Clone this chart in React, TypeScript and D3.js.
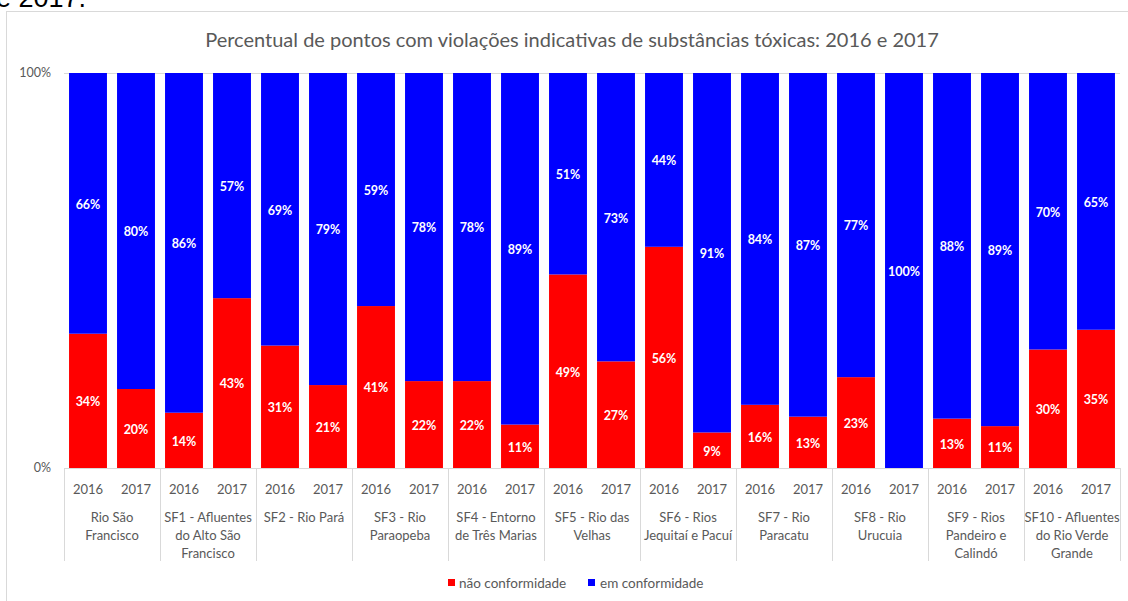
import React from "react";
import * as d3 from "d3";

const categories: string[][] = [
  ["Rio São", "Francisco"],
  ["SF1 - Afluentes", "do Alto São", "Francisco"],
  ["SF2 - Rio Pará"],
  ["SF3 - Rio", "Paraopeba"],
  ["SF4 - Entorno", "de Três Marias"],
  ["SF5 - Rio das", "Velhas"],
  ["SF6 - Rios", "Jequitaí e Pacuí"],
  ["SF7 - Rio", "Paracatu"],
  ["SF8 - Rio", "Urucuia"],
  ["SF9 - Rios", "Pandeiro e", "Calindó"],
  ["SF10 - Afluentes", "do Rio Verde", "Grande"],
];
const years = ["2016", "2017"];
// [2016, 2017] per category
const naoConformidade: number[][] = [
  [34, 20], [14, 43], [31, 21], [41, 22], [22, 11], [49, 27],
  [56, 9], [16, 13], [23, 0], [12.5, 10.6], [30, 35],
];
const emConformidade: number[][] = [
  [66, 80], [86, 57], [69, 79], [59, 78], [78, 89], [51, 73],
  [44, 91], [84, 87], [77, 100], [87.5, 89.4], [70, 65],
];
const yTicks = [0, 100];
const title = "Percentual de pontos com violações indicativas de substâncias tóxicas: 2016 e 2017";
const seriesNames = ["não conformidade", "em conformidade"];
const colors = ["#FF0000", "#0000FF"];

const FONT = "Lato, 'Open Sans', sans-serif";

export default function App() {
  const W = 1128, H = 601;
  const left = 64, right = 1120, top = 73, bottom = 468;
  const x0 = d3.scaleBand<number>().domain(d3.range(categories.length)).range([left, right]).padding(0);
  const x1 = d3.scaleBand<string>().domain(years).range([0, x0.bandwidth()]).paddingInner(0.21).paddingOuter(0.105);
  const y = d3.scaleLinear().domain([0, 100]).range([bottom, top]);
  const grid = "#D9D9D9";
  const textGray = "#595959";

  const marks: React.ReactNode[] = [];
  categories.forEach((_, ci) => {
    years.forEach((yr, yi) => {
      const bx = (x0(ci) as number) + (x1(yr) as number);
      const bw = x1.bandwidth();
      const r = naoConformidade[ci][yi];
      const b = emConformidade[ci][yi];
      const stack = [
        { v0: 0, v1: r, v: r, c: colors[0] },
        { v0: r, v1: Math.min(100, r + b), v: b, c: colors[1] },
      ];
      stack.forEach((s, si) => {
        if (s.v1 - s.v0 <= 0) return;
        const yt = y(s.v1), yb = y(s.v0);
        marks.push(
          <rect key={`r${ci}-${yi}-${si}`} x={bx} y={yt} width={bw} height={yb - yt} fill={s.c} />
        );
        marks.push(
          <text key={`t${ci}-${yi}-${si}`} x={bx + bw / 2} y={(yt + yb) / 2 + 1} dy="0.35em"
            textAnchor="middle" fill="#fff" fontWeight="bold" fontSize={12.5} fontFamily={FONT}>
            {`${Math.round(s.v)}%`}
          </text>
        );
      });
    });
  });

  return (
    <svg width={W} height={H} style={{ position: "absolute", left: 0, top: 0 }}>
      <rect x={0} y={0} width={W} height={H} fill="#fff" />
      <text x={-4} y={7} fontSize={27} fontFamily="'Liberation Sans', Arial, sans-serif" fill="#000">e 2017.</text>
      <rect x={6.5} y={11.5} width={W + 10} height={H + 10} fill="none" stroke="#D9D9D9" strokeWidth={1} />
      <text x={572} y={47} textAnchor="middle" fontSize={20} fill={textGray} fontFamily={FONT}>{title}</text>
      {yTicks.map((t) => (
        <text key={`yt${t}`} x={51} y={y(t)} dy="0.35em" textAnchor="end" fontSize={12.5} fill={textGray} fontFamily={FONT}>{`${t}%`}</text>
      ))}
      <line x1={left} x2={right} y1={y(100) + 0.5} y2={y(100) + 0.5} stroke={grid} />
      {marks}
      <line x1={left} x2={right} y1={bottom + 0.5} y2={bottom + 0.5} stroke={grid} />
      {d3.range(categories.length + 1).map((i) => {
        const xx = i < categories.length ? (x0(i) as number) : right;
        return <line key={`sep${i}`} x1={xx + 0.5} x2={xx + 0.5} y1={bottom} y2={561} stroke={grid} />;
      })}
      {categories.map((lines, ci) => {
        const cx = (x0(ci) as number) + x0.bandwidth() / 2;
        return (
          <g key={`cat${ci}`} fontFamily={FONT} fill={textGray} fontSize={13}>
            {years.map((yr) => (
              <text key={yr} x={(x0(ci) as number) + (x1(yr) as number) + x1.bandwidth() / 2} y={494} textAnchor="middle">{yr}</text>
            ))}
            {lines.map((l, li) => (
              <text key={li} x={cx} y={522 + li * 18} textAnchor="middle">{l}</text>
            ))}
          </g>
        );
      })}
      <g fontFamily={FONT} fontSize={13.5} fill={textGray}>
        <rect x={448} y={579} width={7} height={7} fill={colors[0]} />
        <text x={459} y={588}>{seriesNames[0]}</text>
        <rect x={588} y={579} width={7} height={7} fill={colors[1]} />
        <text x={600} y={588}>{seriesNames[1]}</text>
      </g>
    </svg>
  );
}
